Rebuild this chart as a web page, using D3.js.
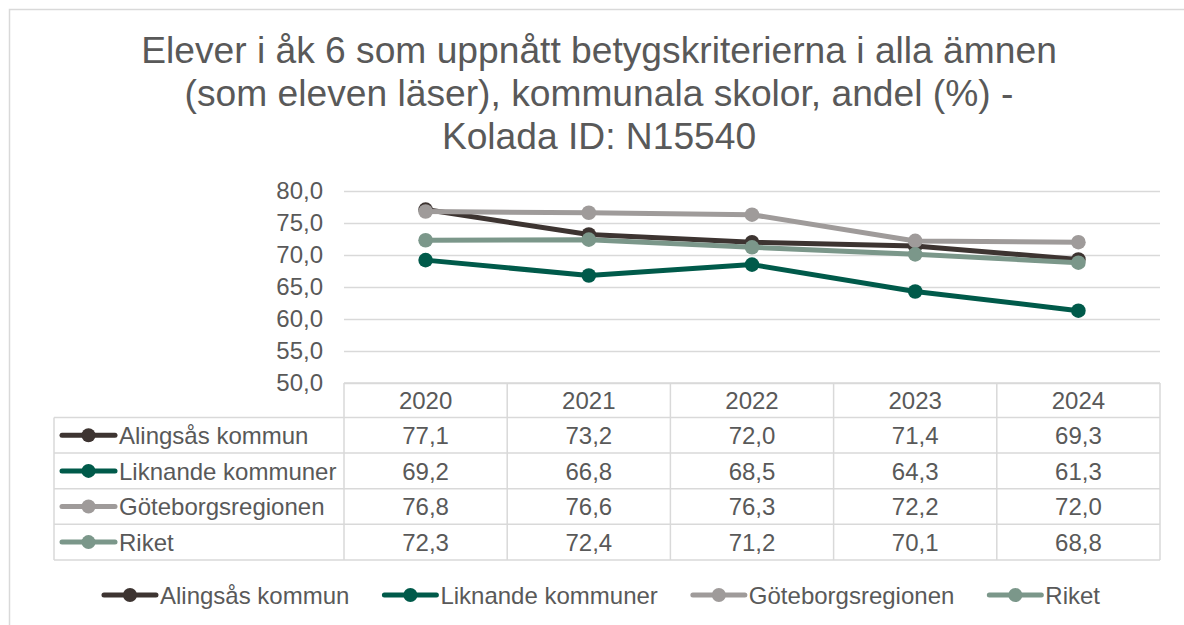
<!DOCTYPE html>
<html>
<head>
<meta charset="utf-8">
<script src="https://cdn.jsdelivr.net/npm/d3@7"></script>
<style>
  html, body { margin: 0; padding: 0; background: #ffffff; }
  svg { display: block; font-family: "Liberation Sans", Arial, sans-serif; }
</style>
</head>
<body>
<svg id="chart" width="1184" height="625"></svg>
<script>
// ---- Data ----
const years = ["2020", "2021", "2022", "2023", "2024"];
const seriesNames = ["Alingsås kommun", "Liknande kommuner", "Göteborgsregionen", "Riket"];
const alingsas = [77.1, 73.2, 72.0, 71.4, 69.3];
const liknande = [69.2, 66.8, 68.5, 64.3, 61.3];
const goteborg = [76.8, 76.6, 76.3, 72.2, 72.0];
const riket = [72.3, 72.4, 71.2, 70.1, 68.8];
const yTicks = [50, 55, 60, 65, 70, 75, 80];
const titleLines = [
  "Elever i åk 6 som uppnått betygskriterierna i alla ämnen",
  "(som eleven läser), kommunala skolor, andel (%) -",
  "Kolada ID: N15540"
];
const seriesColors = ["#3d3431", "#005a4a", "#9f9b9a", "#7b978a"];

const seriesValues = [alingsas, liknande, goteborg, riket];
const series = seriesNames.map((name, i) => ({ name, values: seriesValues[i], color: seriesColors[i] }));

// ---- Layout ----
const W = 1184, H = 625;
const plotLeft = 344, plotRight = 1160, plotTop = 191, plotBottom = 383;
const tableLeft = 54;
const headerH = 34.5, rowH = 35.6;
const textColor = "#595959";
const gridColor = "#d9d9d9";
const labelSize = 24;

const locale = d3.formatLocale({ decimal: ",", thousands: " ", grouping: [3], currency: ["", " kr"] });
const fmt = locale.format(".1f");

const svg = d3.select("#chart");

// outer border
svg.append("rect")
  .attr("x", 9.5).attr("y", 9.5)
  .attr("width", W + 20).attr("height", H + 20)
  .attr("fill", "none").attr("stroke", gridColor).attr("stroke-width", 1.5);

// title
svg.append("g").selectAll("text").data(titleLines).join("text")
  .attr("x", 599).attr("y", (d, i) => 63 + i * 43)
  .attr("text-anchor", "middle")
  .attr("font-size", 37.2)
  .attr("fill", textColor)
  .text(d => d);

// scales
const x = d3.scaleBand().domain(years).range([plotLeft, plotRight]).paddingInner(0).paddingOuter(0);
const y = d3.scaleLinear().domain([50, 80]).range([plotBottom, plotTop]);
const cx = d => x(d) + x.bandwidth() / 2;

// gridlines
const grid = svg.append("g")
  .attr("transform", `translate(${plotLeft},0)`)
  .call(d3.axisLeft(y).tickValues(yTicks).tickSize(-(plotRight - plotLeft)).tickFormat(""));
grid.select(".domain").remove();
grid.selectAll(".tick line").attr("stroke", gridColor).attr("stroke-width", 1.5);

// y axis labels
const yAxis = svg.append("g")
  .attr("transform", `translate(${plotLeft},0)`)
  .call(d3.axisLeft(y).tickValues(yTicks).tickSize(0).tickPadding(21).tickFormat(fmt));
yAxis.select(".domain").remove();
yAxis.selectAll("text")
  .attr("font-size", labelSize)
  .attr("font-family", "'Liberation Sans', Arial, sans-serif")
  .attr("fill", textColor);

// lines
const line = d3.line().x((d, i) => cx(years[i])).y(d => y(d));
const sg = svg.append("g").selectAll("g").data(series).join("g");
sg.append("path")
  .attr("d", d => line(d.values))
  .attr("fill", "none")
  .attr("stroke", d => d.color)
  .attr("stroke-width", 5)
  .attr("stroke-linejoin", "round")
  .attr("stroke-linecap", "round");
sg.selectAll("circle").data(d => d.values.map((v, i) => ({ v, i, color: d.color }))).join("circle")
  .attr("cx", d => cx(years[d.i]))
  .attr("cy", d => y(d.v))
  .attr("r", 7.3)
  .attr("fill", d => d.color);

// ---- Data table ----
const table = svg.append("g");
const headerTop = plotBottom;
const bodyTop = headerTop + headerH;
const tableBottom = bodyTop + rowH * series.length;
const tline = (x1, y1, x2, y2) => table.append("line")
  .attr("x1", x1).attr("y1", y1).attr("x2", x2).attr("y2", y2)
  .attr("stroke", gridColor).attr("stroke-width", 1.5);

// horizontal lines
tline(plotLeft, headerTop, plotRight, headerTop);
for (let r = 0; r <= series.length; r++) {
  tline(tableLeft, bodyTop + r * rowH, plotRight, bodyTop + r * rowH);
}
// vertical lines
tline(tableLeft, bodyTop, tableLeft, tableBottom);
years.forEach(yr => tline(x(yr), headerTop, x(yr), tableBottom));
tline(plotRight, headerTop, plotRight, tableBottom);

// header texts
table.selectAll("text.hdr").data(years).join("text")
  .attr("class", "hdr")
  .attr("x", d => cx(d))
  .attr("y", headerTop + headerH / 2)
  .attr("dy", "0.36em")
  .attr("text-anchor", "middle")
  .attr("font-size", labelSize)
  .attr("fill", textColor)
  .text(d => d);

// rows
series.forEach((s, r) => {
  const rowY = bodyTop + r * rowH + rowH / 2;
  table.append("line")
    .attr("x1", 62).attr("x2", 115).attr("y1", rowY).attr("y2", rowY)
    .attr("stroke", s.color).attr("stroke-width", 5).attr("stroke-linecap", "round");
  table.append("circle").attr("cx", 88.5).attr("cy", rowY).attr("r", 7).attr("fill", s.color);
  table.append("text")
    .attr("x", 119).attr("y", rowY).attr("dy", "0.36em")
    .attr("font-size", labelSize).attr("fill", textColor)
    .text(s.name);
  table.selectAll(null).data(s.values).join("text")
    .attr("x", (d, i) => cx(years[i]))
    .attr("y", rowY).attr("dy", "0.36em")
    .attr("text-anchor", "middle")
    .attr("font-size", labelSize).attr("fill", textColor)
    .text(d => fmt(d));
});

// ---- Bottom legend ----
const legend = svg.append("g");
const legY = 595;
const gap = 33;
let lx = 0;
series.forEach(s => {
  const g = legend.append("g").attr("transform", `translate(${lx},0)`);
  g.append("line").attr("x1", 2).attr("x2", 54).attr("y1", legY).attr("y2", legY)
    .attr("stroke", s.color).attr("stroke-width", 5).attr("stroke-linecap", "round");
  g.append("circle").attr("cx", 28).attr("cy", legY).attr("r", 7).attr("fill", s.color);
  const t = g.append("text").attr("x", 58).attr("y", legY).attr("dy", "0.36em")
    .attr("font-size", labelSize).attr("fill", textColor).text(s.name);
  const w = 58 + t.node().getComputedTextLength();
  lx += w + gap;
});
const totalW = lx - gap;
legend.attr("transform", `translate(${601 - totalW / 2},0)`);
</script>
</body>
</html>
